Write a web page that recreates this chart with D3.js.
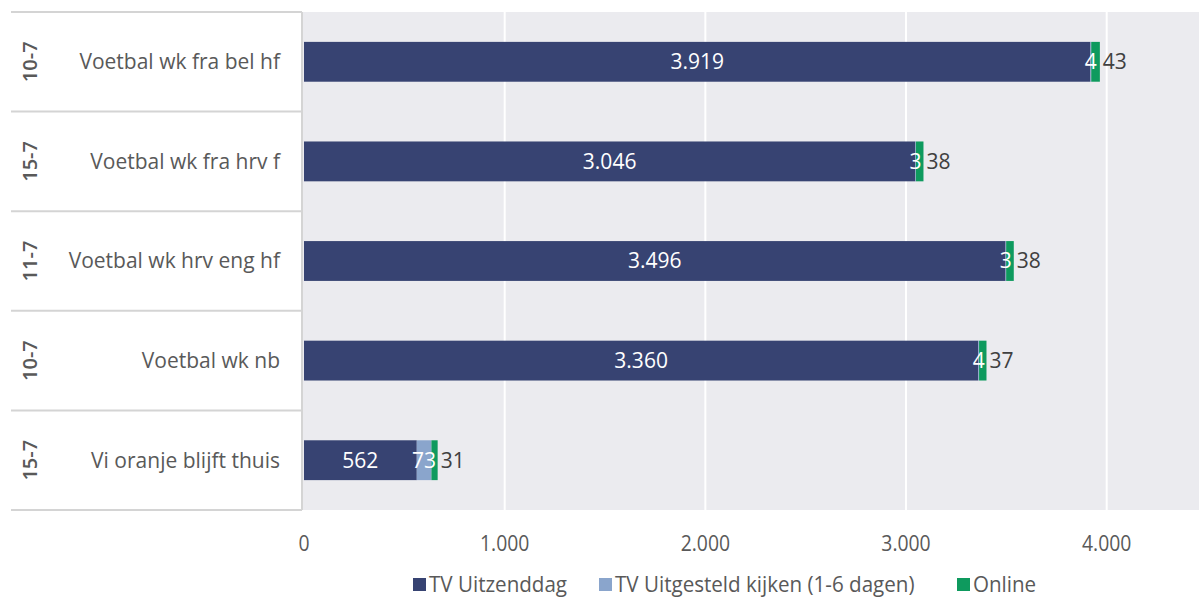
<!DOCTYPE html>
<html>
<head>
<meta charset="utf-8">
<script src="https://cdn.jsdelivr.net/npm/d3@7"></script>
<style>
  body { margin: 0; background: #fff; }
  svg text { font-family: "Open Sans", "Noto Sans", sans-serif; }
</style>
</head>
<body>
<div id="chart"></div>
<script>
// DATA
var dates = ["10-7", "15-7", "11-7", "10-7", "15-7"];
var programmes = ["Voetbal wk fra bel hf", "Voetbal wk fra hrv f", "Voetbal wk hrv eng hf", "Voetbal wk nb", "Vi oranje blijft thuis"];
var tvDay = [3919, 3046, 3496, 3360, 562];
var tvDelayed = [4, 3, 3, 4, 73];
var online = [43, 38, 38, 37, 31];
var seriesNames = ["TV Uitzenddag", "TV Uitgesteld kijken (1-6 dagen)", "Online"];
var xTicks = [0, 1000, 2000, 3000, 4000];

var colors = ["#374372", "#8aa5cc", "#0e9a5e"];

var svgWidth = 1199, svgHeight = 598;
var plotLeft = 304, plotRight = 1199, plotTop = 12, plotBottom = 510;

var svg = d3.select("#chart").append("svg")
    .attr("width", svgWidth)
    .attr("height", svgHeight);

var rows = programmes.map(function(p, i) {
    return { key: i, date: dates[i], name: p, vals: [tvDay[i], tvDelayed[i], online[i]] };
});

// SCALES
var x = d3.scaleLinear().domain([0, 4460]).range([plotLeft, plotRight]);
var y = d3.scaleBand().domain(d3.range(rows.length)).range([plotTop, plotBottom])
    .paddingInner(0.6).paddingOuter(0.3);
var rowBand = d3.scaleBand().domain(d3.range(rows.length)).range([plotTop, plotBottom]);

// PLOT BACKGROUND
svg.append("rect")
    .attr("x", plotLeft - 1).attr("y", plotTop)
    .attr("width", plotRight - plotLeft + 1).attr("height", plotBottom - plotTop)
    .attr("fill", "#ebebef");

// GRIDLINES
svg.append("g").selectAll("line").data(xTicks.slice(1)).enter().append("line")
    .attr("x1", function(d) { return x(d); }).attr("x2", function(d) { return x(d); })
    .attr("y1", plotTop).attr("y2", plotBottom)
    .attr("stroke", "#ffffff").attr("stroke-width", 2);

// LEFT TABLE LINES
var lineYs = d3.range(rows.length + 1).map(function(i) { return plotTop + i * rowBand.step(); });
svg.append("g").selectAll("line").data(lineYs).enter().append("line")
    .attr("x1", 11).attr("x2", 302)
    .attr("y1", function(d) { return d; }).attr("y2", function(d) { return d; })
    .attr("stroke", "#d4d4d4").attr("stroke-width", 2);
svg.append("line")
    .attr("x1", 302).attr("x2", 302).attr("y1", plotTop).attr("y2", plotBottom)
    .attr("stroke", "#d4d4d4").attr("stroke-width", 2);

// CATEGORY LABELS
svg.append("g").selectAll("text").data(rows).enter().append("text")
    .attr("x", 280)
    .attr("y", function(d) { return y(d.key) + y.bandwidth() / 2; })
    .attr("dy", "0.35em")
    .attr("text-anchor", "end")
    .attr("font-size", "21px")
    .attr("fill", "#595959")
    .text(function(d) { return d.name; });

svg.append("g").selectAll("text").data(rows).enter().append("text")
    .attr("transform", function(d) {
        return "translate(37," + (y(d.key) + y.bandwidth() / 2) + ") rotate(-90)";
    })
    .attr("text-anchor", "middle")
    .attr("font-size", "20px")
    .attr("font-weight", "600")
    .attr("fill", "#595959")
    .text(function(d) { return d.date; });

// STACKED BARS
var fmt = function(v) { return d3.format(",")(v).replace(/,/g, "."); };

var segs = [];
rows.forEach(function(r) {
    var start = 0;
    r.vals.forEach(function(v, s) {
        segs.push({ row: r.key, s: s, v: v, x0: x(start), x1: x(start + v) });
        start += v;
    });
});

svg.append("g").selectAll("rect").data(segs).enter().append("rect")
    .attr("x", function(d) { return d.x0; })
    .attr("y", function(d) { return y(d.row); })
    .attr("width", function(d) { return d.x1 - d.x0; })
    .attr("height", y.bandwidth())
    .attr("fill", function(d) { return colors[d.s]; });

// DATA LABELS (drawn on top of all segments)
svg.append("g").selectAll("text").data(segs).enter().append("text")
    .attr("x", function(d) { return d.s < 2 ? (d.x0 + d.x1) / 2 : d.x1 + 3; })
    .attr("y", function(d) { return y(d.row) + y.bandwidth() / 2; })
    .attr("dy", "0.35em")
    .attr("text-anchor", function(d) { return d.s < 2 ? "middle" : "start"; })
    .attr("font-size", "21px")
    .attr("fill", function(d) { return d.s < 2 ? "#ffffff" : "#404040"; })
    .text(function(d) { return fmt(d.v); });

// X AXIS LABELS
svg.append("g").selectAll("text").data(xTicks).enter().append("text")
    .attr("transform", function(d) { return "translate(" + x(d) + ",551) scale(0.88,1)"; })
    .attr("text-anchor", "middle")
    .attr("font-size", "22px")
    .attr("fill", "#595959")
    .text(function(d) { return fmt(d); });

// LEGEND
var legendX = [413, 599, 957];
var legend = svg.append("g").selectAll("g").data(seriesNames).enter().append("g")
    .attr("transform", function(d, i) { return "translate(" + legendX[i] + ",584)"; });
legend.append("rect").attr("x", 0).attr("y", -6).attr("width", 13).attr("height", 13)
    .attr("fill", function(d, i) { return colors[i]; });
legend.append("text").attr("transform", "translate(16,0) scale(0.98,1)")
    .attr("dy", "0.38em")
    .attr("font-size", "21px").attr("fill", "#595959")
    .text(function(d) { return d; });
</script>
</body>
</html>
